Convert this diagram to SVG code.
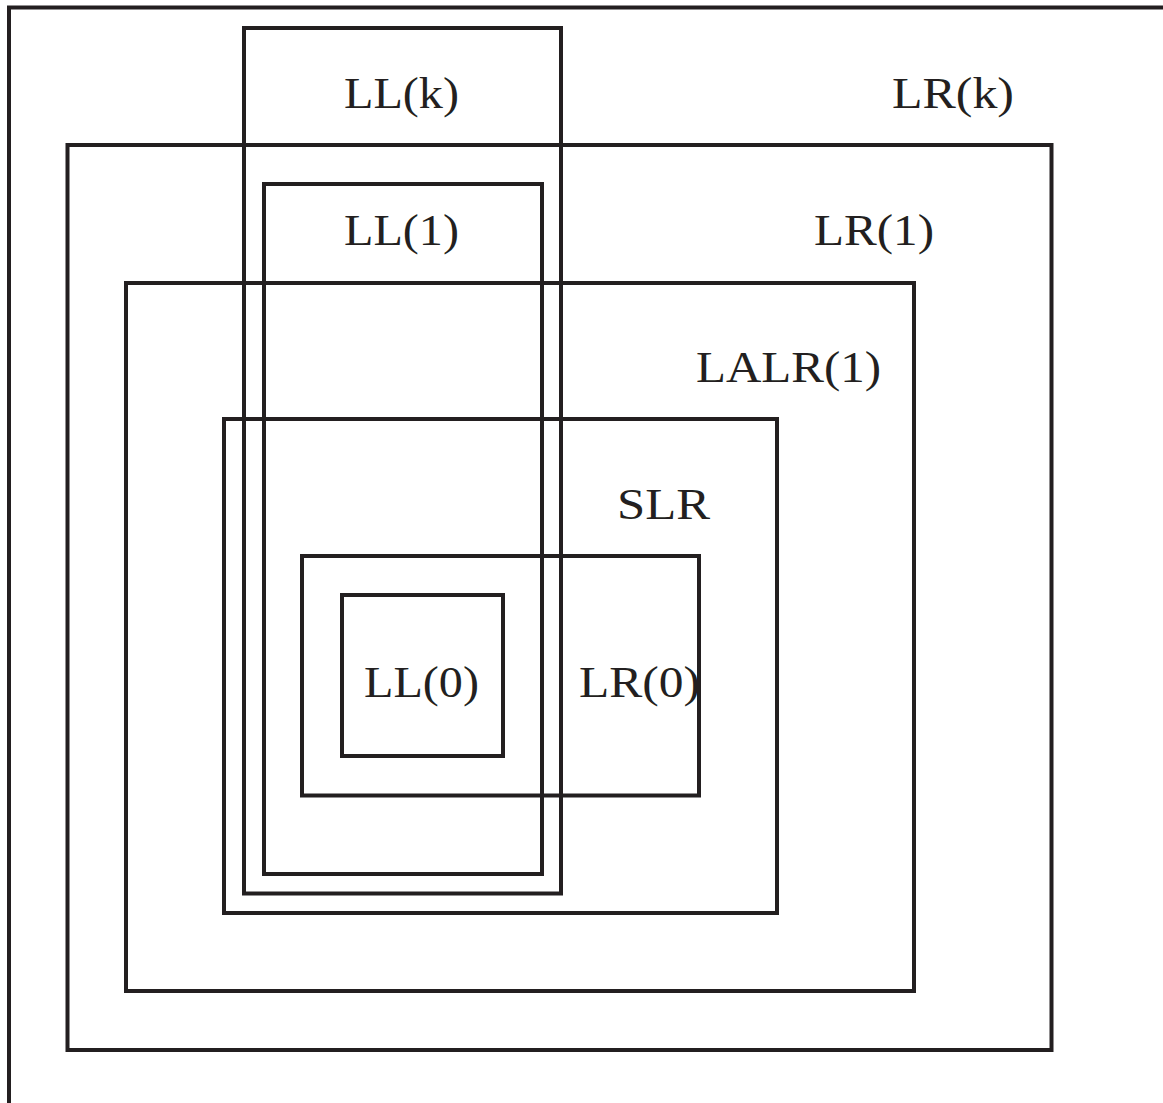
<svg xmlns="http://www.w3.org/2000/svg" width="1163" height="1103" viewBox="0 0 1163 1103">
<style>
.b{fill:none;stroke:#231f20;stroke-width:4;stroke-linejoin:miter}
.t{font-family:"Liberation Serif","DejaVu Serif",serif;font-size:45px;fill:#231f20}
</style>
<rect width="1163" height="1103" fill="#fff"/>
<g id="outer"><path class="b" d="M9 1103 V7.5 H1163"/></g>
<g id="LRk"><rect class="b" x="67.5" y="145" width="984" height="905"/><text class="t" x="892" y="108" textLength="122" lengthAdjust="spacingAndGlyphs">LR(k)</text></g>
<g id="LR1"><rect class="b" x="126" y="283" width="788" height="708"/><text class="t" x="814" y="245" textLength="120" lengthAdjust="spacingAndGlyphs">LR(1)</text></g>
<g id="LALR1"><text class="t" x="696" y="382" textLength="185" lengthAdjust="spacingAndGlyphs">LALR(1)</text></g>
<g id="SLR"><rect class="b" x="224" y="419" width="553" height="494"/><text class="t" x="617" y="519" textLength="93" lengthAdjust="spacingAndGlyphs">SLR</text></g>
<g id="LRO"><rect class="b" x="302" y="556" width="397" height="239.5"/><text class="t" x="579" y="697" textLength="121" lengthAdjust="spacingAndGlyphs">LR(0)</text></g>
<g id="LLk"><rect class="b" x="244" y="28" width="317" height="865.5"/><text class="t" x="344" y="108" textLength="115" lengthAdjust="spacingAndGlyphs">LL(k)</text></g>
<g id="LL1"><rect class="b" x="264" y="184" width="278" height="690"/><text class="t" x="344" y="245" textLength="115" lengthAdjust="spacingAndGlyphs">LL(1)</text></g>
<g id="LL0"><rect class="b" x="342" y="595" width="161" height="161"/><text class="t" x="364" y="697" textLength="115" lengthAdjust="spacingAndGlyphs">LL(0)</text></g>
<g id="connectors"></g>
</svg>
